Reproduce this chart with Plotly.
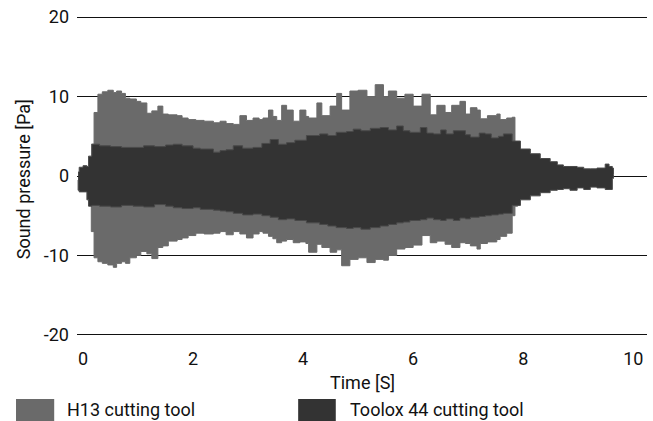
import plotly.graph_objects as go

# ---- H13 cutting tool envelope (Pa) ----
h13_t = [0.15, 0.2, 0.27, 0.35, 0.45, 0.55, 0.61, 0.7, 0.77, 0.85, 0.97, 1.05, 1.16, 1.25, 1.36, 1.45,
         1.55, 1.71, 1.8, 1.91, 2.05, 2.2, 2.37, 2.49, 2.6, 2.73, 2.85, 2.97, 3.09, 3.2, 3.27, 3.37,
         3.45, 3.52, 3.61, 3.7, 3.82, 3.94, 4.05, 4.1, 4.25, 4.34, 4.49, 4.61, 4.7, 4.85, 5.0, 5.16,
         5.31, 5.46, 5.55, 5.7, 5.85, 6.0, 6.16, 6.31, 6.43, 6.58, 6.7, 6.85, 6.95, 7.04, 7.16, 7.22,
         7.35, 7.52, 7.58, 7.7, 7.8, 7.85, 7.9]
h13_upper = [4.0, 8.0, 10.3, 10.6, 10.8, 10.5, 10.7, 10.4, 9.8, 9.7, 9.4, 9.2, 7.9, 8.2, 8.8, 7.8,
             7.7, 7.6, 7.3, 7.1, 7.0, 6.9, 6.7, 6.9, 6.6, 6.5, 7.6, 7.0, 7.3, 7.1, 7.3, 8.3,
             7.5, 7.0, 8.9, 8.3, 6.9, 8.3, 7.5, 7.3, 9.2, 7.6, 8.8, 10.4, 8.3, 10.7, 10.8, 10.0,
             11.5, 10.0, 10.7, 9.8, 10.3, 8.8, 10.3, 7.7, 8.9, 8.0, 8.9, 9.4, 7.8, 8.6, 8.3, 7.2,
             7.6, 7.8, 7.1, 7.3, 7.4, 3.8, 3.4]
h13_lower = [-3.8, -7.0, -10.3, -10.8, -11.0, -11.2, -11.5, -11.0, -10.8, -11.0, -10.3, -10.0, -9.5, -9.8, -10.4, -9.0,
             -8.8, -8.2, -8.0, -7.8, -7.5, -7.2, -7.3, -7.2, -7.0, -7.4, -7.0, -7.3, -7.8, -7.3, -7.0, -7.2,
             -7.6, -7.9, -8.4, -8.2, -8.0, -8.4, -8.3, -8.5, -9.6, -8.6, -9.0, -9.6, -9.3, -11.3, -10.5, -10.3,
             -10.9, -10.5, -10.6, -10.0, -9.2, -9.0, -8.7, -7.5, -8.4, -8.2, -8.6, -9.0, -8.4, -8.5, -8.8, -9.2,
             -8.5, -8.3, -8.0, -7.6, -7.2, -5.0, -3.8]

# ---- Toolox 44 cutting tool envelope (Pa) ----
tox_t = [-0.09, -0.07, 0.0, 0.07, 0.1, 0.16, 0.3, 0.5, 0.7, 0.91, 1.1, 1.3, 1.5, 1.64, 1.8, 2.0,
         2.13, 2.37, 2.49, 2.6, 2.73, 2.9, 3.09, 3.25, 3.4, 3.55, 3.7, 3.85, 4.06, 4.3, 4.45, 4.6,
         4.79, 4.91, 5.05, 5.22, 5.4, 5.55, 5.7, 5.82, 5.94, 6.13, 6.25, 6.37, 6.5, 6.6, 6.73, 6.85,
         6.95, 7.04, 7.2, 7.31, 7.42, 7.55, 7.64, 7.8, 7.95, 8.13, 8.31, 8.49, 8.62, 8.73, 8.85, 8.98,
         9.1, 9.22, 9.34, 9.49, 9.56, 9.62, 9.64]
tox_upper = [0.5, 1.1, 1.3, 1.2, 2.5, 4.0, 3.8, 3.7, 3.6, 3.6, 3.8, 3.7, 3.9, 4.0, 3.8, 3.5,
             3.4, 3.0, 3.2, 3.3, 3.8, 3.5, 3.6, 4.1, 4.6, 4.0, 4.2, 4.5, 5.1, 5.3, 5.1, 5.5,
             5.6, 5.9, 5.7, 6.0, 6.1, 5.8, 6.3, 5.7, 5.5, 6.1, 5.4, 5.3, 5.8, 5.3, 5.7, 5.7,
             5.2, 4.9, 5.4, 5.3, 4.8, 5.0, 5.3, 4.4, 3.4, 2.8, 2.2, 1.8, 1.4, 1.2, 1.2, 1.1,
             0.9, 0.9, 1.0, 1.5, 1.2, 1.0, 0.2]
tox_lower = [-0.5, -1.8, -2.0, -2.0, -3.0, -3.8, -3.7, -3.8, -3.9, -3.7, -3.8, -3.9, -3.6, -3.8, -4.0, -4.1,
             -4.0, -4.2, -4.3, -4.4, -4.5, -4.7, -4.9, -4.8, -5.0, -5.2, -5.5, -5.4, -5.6, -5.9, -6.1, -6.3,
             -6.5, -6.6, -6.5, -6.7, -6.5, -6.3, -6.1, -5.9, -5.8, -5.6, -5.5, -5.3, -5.5, -5.6, -5.4, -5.6,
             -5.3, -5.4, -5.2, -5.1, -5.0, -4.9, -4.8, -4.7, -3.7, -3.0, -2.5, -2.1, -1.8, -1.7, -1.6, -1.8,
             -1.5, -1.7, -1.4, -1.5, -1.7, -1.7, -0.3]

series_names = ["H13 cutting tool", "Toolox 44 cutting tool"]
x_ticks = [0, 2, 4, 6, 8, 10]
y_ticks = [-20, -10, 0, 10, 20]
y_tick_labels = ["-20", "-10", "0", "10", "20"]
x_title = "Time [S]"
y_title = "Sound pressure [Pa]"

LIGHT = "#6a6a6a"
DARK = "#333333"
FONT = "Roboto"
TXT = "#111111"

fig = go.Figure()
fig.add_trace(go.Scatter(
    x=h13_t + h13_t[::-1], y=h13_upper + h13_lower[::-1],
    fill="toself", fillcolor=LIGHT, mode="lines",
    line=dict(color=LIGHT, width=1, shape="hv"), name=series_names[0], showlegend=False,
))
fig.add_trace(go.Scatter(
    x=tox_t + tox_t[::-1], y=tox_upper + tox_lower[::-1],
    fill="toself", fillcolor=DARK, mode="lines",
    line=dict(color="#4a4a4a", width=1, shape="hv"), name=series_names[1], showlegend=False,
))

# legend swatches + labels (paper coordinates)
for sx0, sx1, tx, label, col in [(-0.107, -0.040, -0.021, series_names[0], LIGHT),
                                 (0.388, 0.454, 0.475, series_names[1], DARK)]:
    fig.add_shape(type="rect", xref="paper", yref="paper", x0=sx0, x1=sx1, y0=-0.27, y1=-0.188,
                  fillcolor=col, line=dict(width=0))
    fig.add_annotation(xref="paper", yref="paper", x=tx, y=-0.222, text=label, showarrow=False,
                       xanchor="left", yanchor="middle", font=dict(family=FONT, size=18, color=TXT))

# axis titles
fig.add_annotation(xref="paper", yref="paper", x=0.5, y=-0.136, text=x_title, showarrow=False,
                   xanchor="center", yanchor="middle", font=dict(family=FONT, size=18, color=TXT))
fig.add_annotation(xref="paper", yref="paper", x=-0.0947, y=0.49, text=y_title, showarrow=False,
                   textangle=-90, xanchor="center", yanchor="middle",
                   font=dict(family=FONT, size=18, color=TXT))

fig.update_layout(
    width=653, height=421,
    margin=dict(l=77, r=6, t=14, b=83, autoexpand=False),
    plot_bgcolor="white", paper_bgcolor="white",
    font=dict(family=FONT, size=18, color=TXT),
    showlegend=False,
    xaxis=dict(range=[-0.11, 10.25], tickvals=x_ticks, showgrid=False, zeroline=False,
               showline=False, ticks="", ticklabelstandoff=8, ticklabeloverflow="allow",
               automargin=False),
    yaxis=dict(range=[-20.4, 20.4], tickvals=y_ticks, ticktext=y_tick_labels, showgrid=True,
               gridcolor="#111111", gridwidth=1, zeroline=False, showline=False, ticks="",
               ticklabelstandoff=7, ticklabeloverflow="allow", automargin=False),
)

fig.write_html("out.html", config={"displayModeBar": False},
               post_script="document.body.style.margin='0px';")
